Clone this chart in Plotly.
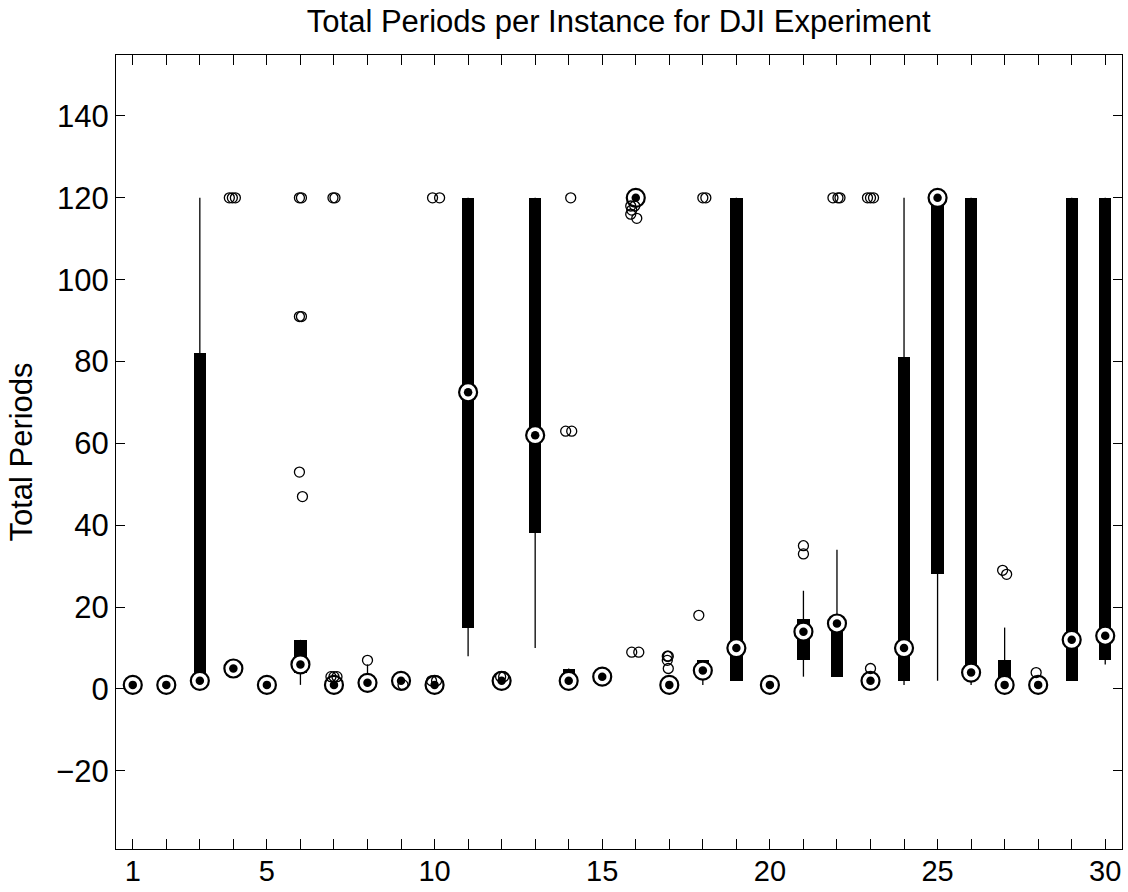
import plotly.graph_objects as go

# ---- data ----
instances = list(range(1, 31))
q1  = [1, 1, 2, 5, 1, 4, 1, 1, 2, 1, 15, 2, 38, 2, 3, 120, 1, 3, 2, 1, 7, 3, 2, 2, 28, 3, 1, 1, 2, 7]
med = [1, 1, 2, 5, 1, 6, 1, 1.5, 2, 1, 72.5, 2, 62, 2, 3, 120, 1, 4.5, 10, 1, 14, 16, 2, 10, 120, 4, 1, 1, 12, 13]
q3  = [1, 1, 82, 5, 1, 12, 1, 3, 2, 1, 120, 2, 120, 5, 3, 120, 1, 7, 120, 2, 17, 17, 2, 81, 120, 120, 7, 1, 120, 120]
wlo = [1, 1, 2, 5, 1, 1, 1, 1, 2, 1, 8, 2, 10, 2, 3, 120, 1, 1, 2, 1, 3, 3, 2, 1, 2, 1, 1, 1, 2, 6]
whi = [1, 1, 120, 5, 1, 12, 1, 6, 2, 1, 120, 2, 120, 5, 3, 120, 1, 7, 120, 2, 24, 34, 2, 120, 120, 120, 15, 1, 120, 120]

out_box = [4, 4, 4,
           6, 6, 6, 6, 6, 6,
           7, 7, 7, 7, 7,
           8, 9,
           10, 10, 10, 10,
           12, 12,
           14, 14, 14,
           16, 16, 16, 16, 16, 16, 16,
           17, 17, 17, 17,
           18, 18, 18,
           21, 21,
           22, 22, 22,
           23, 23, 23, 23,
           27, 27, 28]
out_val = [120, 120, 120,
           120, 120, 91, 91, 53, 47,
           120, 120, 3, 3, 3,
           7, 1,
           2, 2, 120, 120,
           3, 3,
           63, 63, 120,
           118, 118, 117, 116, 115, 9, 9,
           8, 8, 7, 5,
           18, 120, 120,
           35, 33,
           120, 120, 120,
           120, 120, 120, 5,
           29, 28, 4]
out_jit = [-0.12, -0.03, 0.06,
           -0.03, 0.03, -0.03, 0.03, -0.03, 0.06,
           -0.03, 0.03, -0.09, 0.0, 0.09,
           0.0, 0.06,
           -0.09, 0.06, -0.06, 0.15,
           -0.03, 0.06,
           -0.09, 0.09, 0.06,
           -0.15, -0.03, -0.12, -0.15, 0.03, -0.12, 0.09,
           -0.06, -0.03, -0.06, -0.03,
           -0.12, 0.0, 0.09,
           0.0, 0.0,
           -0.12, 0.03, 0.09,
           -0.09, 0.0, 0.09, 0.0,
           -0.06, 0.06, -0.06]

xtick_vals = list(range(1, 31))
xtick_text = [str(v) if v in (1, 5, 10, 15, 20, 25, 30) else "" for v in xtick_vals]
ytick_vals = [-20, 0, 20, 40, 60, 80, 100, 120, 140]

# ---- figure ----
fig = go.Figure()

# whiskers
wx, wy = [], []
for x, lo, hi in zip(instances, wlo, whi):
    wx += [x, x, None]
    wy += [lo, hi, None]
fig.add_trace(go.Scatter(x=wx, y=wy, mode="lines",
                         line=dict(color="black", width=1.3),
                         hoverinfo="skip", showlegend=False))

# boxes (thick bars from q1 to q3)
fig.add_trace(go.Bar(x=instances, y=[b - a for a, b in zip(q1, q3)], base=q1,
                     width=0.37, marker=dict(color="black", line=dict(width=0)),
                     showlegend=False, hoverinfo="skip"))

# median: white circle with black outline and black dot
fig.add_trace(go.Scatter(x=instances, y=med, mode="markers",
                         marker=dict(symbol="circle", size=18, color="white",
                                     line=dict(color="black", width=2.2)),
                         showlegend=False, hoverinfo="skip"))
fig.add_trace(go.Scatter(x=instances, y=med, mode="markers",
                         marker=dict(symbol="circle", size=8.5, color="black",
                                     line=dict(width=0)),
                         showlegend=False, hoverinfo="skip"))

# outliers
fig.add_trace(go.Scatter(x=[b + j for b, j in zip(out_box, out_jit)], y=out_val,
                         mode="markers",
                         marker=dict(symbol="circle-open", size=10, color="black",
                                     line=dict(color="black", width=1.3)),
                         showlegend=False, hoverinfo="skip"))

font_family = "Liberation Sans, Arial, Helvetica, sans-serif"

fig.update_layout(
    width=1128, height=892,
    margin=dict(l=116, r=6, t=55, b=43, autoexpand=False),
    paper_bgcolor="white", plot_bgcolor="white",
    font=dict(family=font_family, size=31, color="black"),
    title=dict(text="Total Periods per Instance for DJI Experiment",
               x=0.5485, xanchor="center", y=1 - 21 / 892, yanchor="middle",
               yref="container", font=dict(size=31, color="black")),
    bargap=0,
)
fig.update_xaxes(range=[0.5, 30.5], tickmode="array", tickvals=xtick_vals,
                 ticktext=xtick_text, ticks="inside", ticklen=10, tickwidth=1.2,
                 tickcolor="black", showline=True, linecolor="black", linewidth=1.3,
                 mirror="ticks", showgrid=False, zeroline=False, automargin=False,
                 ticklabelstandoff=-4, tickfont=dict(size=29))
fig.update_yaxes(range=[-39.1, 154.9], tickmode="array", tickvals=ytick_vals,
                 ticks="inside", ticklen=9, tickwidth=1.2, tickcolor="black",
                 showline=True, linecolor="black", linewidth=1.3, mirror="ticks",
                 showgrid=False, zeroline=False, automargin=False,
                 tickfont=dict(size=31),
                 title=dict(text="Total Periods", font=dict(size=31), standoff=14))

fig.write_html("out.html")
